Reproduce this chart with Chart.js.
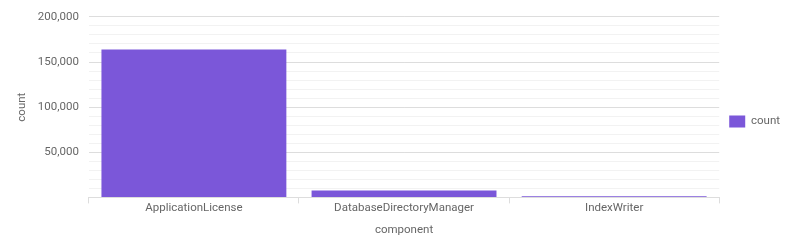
<!DOCTYPE html>
<html><head><meta charset="utf-8">
<script src="https://cdn.jsdelivr.net/npm/chart.js@4/dist/chart.umd.min.js"></script>
<style>html,body{margin:0;padding:0;background:#fff}#wrap{width:800px;height:250px}</style>
</head><body><div id="wrap"><canvas id="c"></canvas></div>
<script>
const categories = ["ApplicationLicense", "DatabaseDirectoryManager", "IndexWriter"];
const counts = [164000, 7700, 1200];
const seriesName = "count";
const yTickValues = [50000, 100000, 150000, 200000];

Chart.defaults.font.family = "Roboto, 'Liberation Sans', sans-serif";
Chart.defaults.font.size = 11.5;
Chart.defaults.color = "#666";

new Chart(document.getElementById('c'), {
  type: 'bar',
  data: {
    labels: categories,
    datasets: [{
      label: seriesName,
      data: counts,
      backgroundColor: '#7B57D9',
      borderWidth: 0,
      barPercentage: 0.88,
      categoryPercentage: 1.0
    }]
  },
  options: {
    responsive: true,
    maintainAspectRatio: false,
    animation: false,
    layout: { padding: { top: 6, right: 10, bottom: 13, left: 15 } },
    plugins: {
      legend: {
        position: 'right',
        labels: { boxWidth: 16, boxHeight: 12, padding: 10, font: { size: 11.5 } }
      },
      tooltip: { enabled: false }
    },
    scales: {
      x: {
        offset: true,
        grid: { drawOnChartArea: false, tickLength: 6, color: '#ddd' },
        border: { color: '#ddd' },
        ticks: { padding: -2 },
        title: { display: true, text: 'component', padding: { top: 10, bottom: 0 } }
      },
      y: {
        min: 0, max: 200000,
        border: { display: false },
        grid: {
          drawTicks: false,
          color: (ctx) => (ctx.tick && yTickValues.includes(ctx.tick.value)) ? '#ddd' : '#f2f2f2'
        },
        ticks: {
          stepSize: 10000,
          padding: 10,
          autoSkip: false,
          callback: (v) => yTickValues.includes(v) ? v.toLocaleString('en-US') : ''
        },
        title: { display: true, text: 'count', padding: { top: 0, bottom: -1 } }
      }
    }
  }
});
</script></body></html>
